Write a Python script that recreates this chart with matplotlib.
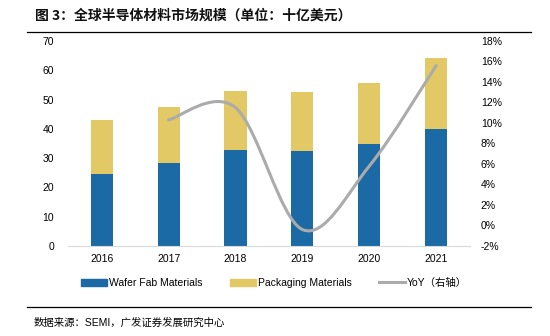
import numpy as np
import matplotlib
matplotlib.use('Agg')
import matplotlib.pyplot as plt
from matplotlib.path import Path
from matplotlib.patches import PathPatch
from matplotlib.lines import Line2D
from matplotlib.patches import Patch

plt.rcParams['font.family'] = ['Liberation Sans', 'Noto Sans CJK SC', 'DejaVu Sans']

years = ['2016', '2017', '2018', '2019', '2020', '2021']
wafer = [24.6, 28.3, 32.8, 32.5, 34.7, 40.0]
packaging = [18.4, 19.2, 20.1, 20.2, 20.8, 24.2]
yoy = [None, 10.3, 11.5, -0.4, 5.8, 15.6]  # %

blue = '#1B6AA5'
yellow = '#E3C866'
gray = '#ABABAB'


def smooth_path(xs, ys):
    # Catmull-Rom style cubic bezier through the points (Excel "smoothed line")
    pts = np.column_stack([xs, ys])
    verts = [pts[0]]
    codes = [Path.MOVETO]
    n = len(pts)
    for i in range(n - 1):
        p0 = pts[i - 1] if i > 0 else pts[i]
        p1 = pts[i]
        p2 = pts[i + 1]
        p3 = pts[i + 2] if i + 2 < n else pts[i + 1]
        c1 = p1 + (p2 - p0) / 6.0
        c2 = p2 - (p3 - p1) / 6.0
        verts += [c1, c2, p2]
        codes += [Path.CURVE4] * 3
    return Path(verts, codes)


fig = plt.figure(figsize=(5.5, 3.36), dpi=100)
ax = fig.add_axes([0.124, 0.268, 0.730, 0.610])
x = np.arange(len(years))
ax.bar(x, wafer, width=0.33, color=blue, zorder=2)
ax.bar(x, packaging, width=0.33, bottom=wafer, color=yellow, zorder=2)
ax.set_xlim(-0.5, len(years) - 0.5)
ax.set_ylim(0, 70)
ax.set_yticks(range(0, 71, 10))
ax.set_xticks(x)
ax.set_xticklabels(years)
for s in ['top', 'right', 'left']:
    ax.spines[s].set_visible(False)
ax.spines['bottom'].set_color('#D9D9D9')
ax.tick_params(axis='both', length=0, labelsize=7.5, colors='black')
ax.tick_params(axis='y', pad=10)
ax.tick_params(axis='x', pad=6)

ax2 = ax.twinx()
ax2.set_ylim(-2, 18)
ax2.set_yticks(range(-2, 19, 2))
ax2.set_yticklabels([f'{v}%' for v in range(-2, 19, 2)])
for s in ax2.spines.values():
    s.set_visible(False)
ax2.tick_params(axis='y', length=0, labelsize=7.5, pad=8)
xs = [i for i, v in enumerate(yoy) if v is not None]
ys = [v for v in yoy if v is not None]
ax2.add_patch(PathPatch(smooth_path(xs, ys), facecolor='none', edgecolor=gray,
                        lw=2.2, capstyle='round', zorder=3))

fig.text(0.064, 0.955, '图 3：全球半导体材料市场规模（单位：十亿美元）', fontsize=10,
         fontweight='bold', family=['Noto Sans CJK SC'], va='center', color='#111111')
fig.add_artist(Line2D([0.049, 0.965], [0.905, 0.905], color='black', lw=0.9))
fig.add_artist(Line2D([0.049, 0.965], [0.085, 0.085], color='black', lw=0.9))
fig.text(0.062, 0.04, '数据来源：SEMI，广发证券发展研究中心', fontsize=7.5, va='center',
         family=['Liberation Sans', 'Noto Sans CJK SC'])

handles = [Patch(color=blue), Patch(color=yellow), Line2D([], [], color=gray, lw=2.2)]
labels = ['Wafer Fab Materials', 'Packaging Materials', 'YoY（右轴）']
fig.legend(handles, labels, loc='center', bbox_to_anchor=(0.498, 0.158), ncol=3,
           frameon=False, fontsize=7.5, handlelength=2.5, handleheight=0.6,
           handletextpad=0.2, columnspacing=2.6)

fig.savefig('out.png', dpi=100)
